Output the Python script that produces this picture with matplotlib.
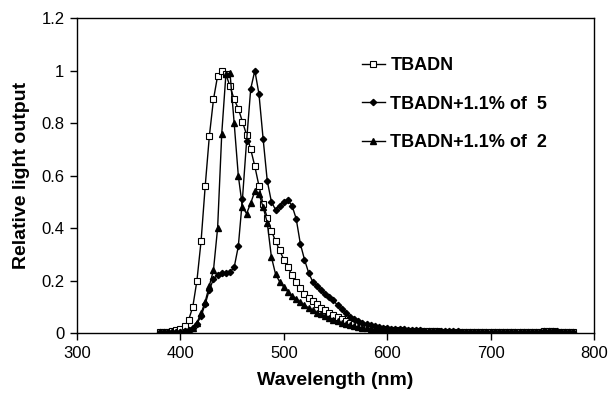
import numpy as np
import matplotlib.pyplot as plt
from matplotlib.ticker import FuncFormatter

plt.rcParams['font.family'] = ['Liberation Sans', 'DejaVu Sans']

# wavelength grid [nm], 4 nm steps
wl = np.arange(380, 781, 4)

# TBADN (open squares)
tbadn = [0.005, 0.005, 0.005, 0.006, 0.010, 0.015, 0.025, 0.050, 0.100, 0.200,
         0.350, 0.560, 0.750, 0.890, 0.980, 1.000, 0.985, 0.940, 0.890, 0.855,
         0.805, 0.755, 0.700, 0.635, 0.560, 0.490, 0.440, 0.390, 0.350, 0.315,
         0.280, 0.250, 0.220, 0.195, 0.170, 0.150, 0.135, 0.122, 0.110, 0.097,
         0.087, 0.078, 0.069, 0.062, 0.055, 0.047, 0.040, 0.035, 0.031, 0.027,
         0.024, 0.021, 0.019, 0.017, 0.015, 0.013, 0.012, 0.011, 0.010, 0.009,
         0.009, 0.008, 0.008, 0.007, 0.007, 0.006, 0.006, 0.006, 0.005, 0.005,
         0.005, 0.005, 0.005, 0.005, 0.004, 0.004, 0.004, 0.004, 0.004, 0.004,
         0.004, 0.004, 0.004, 0.004, 0.004, 0.004, 0.004, 0.004, 0.004, 0.004,
         0.004, 0.004, 0.004, 0.006, 0.008, 0.007, 0.005, 0.004, 0.004, 0.004,
         0.004]

# TBADN + 1.1% of 5 (filled diamonds)
dop5 = [0.003, 0.003, 0.003, 0.003, 0.004, 0.005, 0.008, 0.012, 0.018, 0.035,
        0.065, 0.110, 0.165, 0.205, 0.222, 0.228, 0.228, 0.232, 0.250, 0.330,
        0.510, 0.730, 0.930, 1.000, 0.910, 0.740, 0.580, 0.500, 0.470, 0.485,
        0.500, 0.505, 0.485, 0.435, 0.340, 0.280, 0.230, 0.195, 0.178, 0.163,
        0.150, 0.138, 0.124, 0.106, 0.090, 0.075, 0.062, 0.052, 0.045, 0.038,
        0.033, 0.029, 0.026, 0.023, 0.021, 0.019, 0.017, 0.016, 0.015, 0.014,
        0.013, 0.012, 0.011, 0.010, 0.009, 0.009, 0.008, 0.008, 0.007, 0.007,
        0.006, 0.006, 0.006, 0.005, 0.005, 0.005, 0.005, 0.004, 0.004, 0.004,
        0.004, 0.004, 0.004, 0.004, 0.004, 0.004, 0.004, 0.004, 0.004, 0.004,
        0.005, 0.005, 0.005, 0.006, 0.008, 0.007, 0.006, 0.005, 0.005, 0.005,
        0.005]

# TBADN + 1.1% of 2 (filled triangles)
dop2 = [0.002, 0.002, 0.002, 0.003, 0.003, 0.004, 0.006, 0.012, 0.020, 0.040,
        0.075, 0.120, 0.180, 0.240, 0.400, 0.760, 0.985, 0.990, 0.800, 0.600,
        0.480, 0.455, 0.495, 0.540, 0.530, 0.480, 0.420, 0.290, 0.225, 0.195,
        0.175, 0.157, 0.142, 0.130, 0.118, 0.106, 0.096, 0.087, 0.078, 0.071,
        0.063, 0.056, 0.050, 0.044, 0.039, 0.034, 0.030, 0.026, 0.023, 0.020,
        0.018, 0.016, 0.014, 0.012, 0.011, 0.010, 0.009, 0.008, 0.007, 0.007,
        0.006, 0.006, 0.005, 0.005, 0.004, 0.004, 0.004, 0.003, 0.003, 0.003,
        0.003, 0.003, 0.003, 0.003, 0.002, 0.002, 0.002, 0.002, 0.002, 0.002,
        0.002, 0.002, 0.002, 0.002, 0.002, 0.002, 0.002, 0.002, 0.002, 0.002,
        0.003, 0.003, 0.003, 0.004, 0.006, 0.005, 0.004, 0.003, 0.003, 0.003,
        0.003]

labels = ['TBADN', 'TBADN+1.1% of  5', 'TBADN+1.1% of  2']

fig = plt.figure(figsize=(6.13, 4.04), dpi=100)
ax = fig.add_axes([0.1256, 0.1757, 0.8434, 0.7797])

ax.plot(wl, tbadn, color='black', lw=1.0, marker='s', ms=4.3,
        mfc='white', mec='black', mew=0.8, label=labels[0])
ax.plot(wl, dop5, color='black', lw=1.0, marker='D', ms=3.2,
        mfc='black', mec='black', label=labels[1])
ax.plot(wl, dop2, color='black', lw=1.0, marker='^', ms=4.5,
        mfc='black', mec='black', label=labels[2])

ax.set_xlim(300, 800)
ax.set_ylim(0, 1.2)
ax.set_xticks([300, 400, 500, 600, 700, 800])
ax.set_yticks([0, 0.2, 0.4, 0.6, 0.8, 1.0, 1.2])
ax.yaxis.set_major_formatter(FuncFormatter(lambda v, p: '{:g}'.format(round(v, 1))))
ax.tick_params(direction='out', length=5, width=1, labelsize=12, pad=4)
for s in ax.spines.values():
    s.set_linewidth(1.0)
    s.set_color('black')

ax.set_xlabel('Wavelength (nm)', fontsize=14, fontweight='bold', labelpad=8)
ax.set_ylabel('Relative light output', fontsize=14, fontweight='bold', labelpad=8)

leg = ax.legend(loc='upper left', bbox_to_anchor=(0.533, 0.905), frameon=False,
                prop={'size': 13, 'weight': 'bold'}, handlelength=1.3,
                handletextpad=0.3, labelspacing=1.2, borderpad=0)

fig.savefig('out.png', dpi=100)
